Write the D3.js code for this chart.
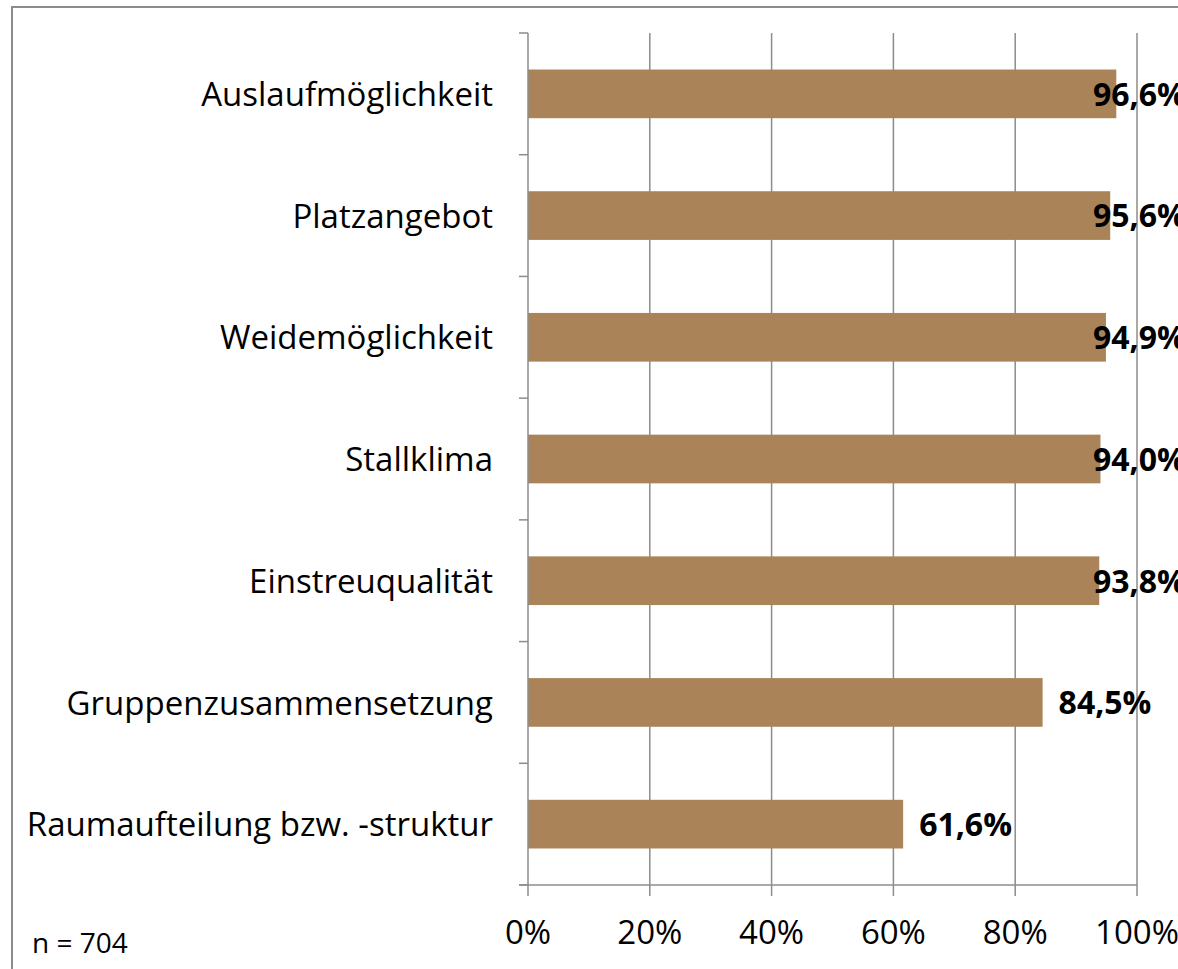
<!DOCTYPE html>
<html>
<head>
<meta charset="utf-8">
<script src="https://cdn.jsdelivr.net/npm/d3@7"></script>
<style>
  html, body { margin: 0; padding: 0; background: #fff; }
  svg { display: block; }
  text { font-family: "Open Sans", "Noto Sans", sans-serif; fill: #000; }
</style>
</head>
<body>
<svg id="chart" width="1178" height="969"></svg>
<script>
// data
var categories = ["Auslaufmöglichkeit", "Platzangebot", "Weidemöglichkeit", "Stallklima",
  "Einstreuqualität", "Gruppenzusammensetzung", "Raumaufteilung bzw. -struktur"];
var values = [96.6, 95.6, 94.9, 94.0, 93.8, 84.5, 61.6];
var xTicks = [0, 20, 40, 60, 80, 100];
var note = "n = 704";

var svg = d3.select("#chart");

// outer frame of the chart area
svg.append("rect")
    .attr("x", 12).attr("y", 7)
    .attr("width", 1400).attr("height", 1200)
    .attr("fill", "none")
    .attr("stroke", "#8c8c8c")
    .attr("stroke-width", 2);

var plotLeft = 528, plotRight = 1137, plotTop = 33, plotBottom = 885;

var x = d3.scaleLinear().domain([0, 100]).range([plotLeft, plotRight]);
var y = d3.scaleBand().domain(categories).range([plotTop, plotBottom])
    .paddingInner(0.6).paddingOuter(0.3);

// vertical gridlines
svg.append("g").selectAll("line")
    .data(xTicks.slice(1))
    .join("line")
    .attr("x1", d => x(d)).attr("x2", d => x(d))
    .attr("y1", plotTop).attr("y2", plotBottom)
    .attr("stroke", "#8c8c8c")
    .attr("stroke-width", 1.5);

// bars
svg.append("g").selectAll("rect")
    .data(values)
    .join("rect")
    .attr("x", x(0))
    .attr("y", (d, i) => y(categories[i]))
    .attr("width", d => x(d) - x(0))
    .attr("height", y.bandwidth())
    .attr("fill", "#aa8458");

// y axis with ticks between categories
var yAxis = svg.append("g");
yAxis.append("line")
    .attr("x1", plotLeft).attr("x2", plotLeft)
    .attr("y1", plotTop).attr("y2", plotBottom)
    .attr("stroke", "#8c8c8c").attr("stroke-width", 1.5);
var step = y.step();
yAxis.selectAll("line.tick")
    .data(d3.range(categories.length + 1))
    .join("line")
    .attr("class", "tick")
    .attr("x1", plotLeft - 9).attr("x2", plotLeft)
    .attr("y1", i => plotTop + i * step).attr("y2", i => plotTop + i * step)
    .attr("stroke", "#8c8c8c").attr("stroke-width", 1.5);

yAxis.selectAll("text")
    .data(categories)
    .join("text")
    .attr("x", plotLeft - 35)
    .attr("y", d => y(d) + y.bandwidth() / 2)
    .attr("dy", "0.37em")
    .attr("text-anchor", "end")
    .style("font-size", "33px")
    .text(d => d);

// x axis
var xAxis = svg.append("g");
xAxis.append("line")
    .attr("x1", plotLeft - 9).attr("x2", plotRight)
    .attr("y1", plotBottom).attr("y2", plotBottom)
    .attr("stroke", "#8c8c8c").attr("stroke-width", 1.5);
xAxis.selectAll("line.tick")
    .data(xTicks)
    .join("line")
    .attr("class", "tick")
    .attr("x1", d => x(d)).attr("x2", d => x(d))
    .attr("y1", plotBottom).attr("y2", plotBottom + 11)
    .attr("stroke", "#8c8c8c").attr("stroke-width", 1.5);
xAxis.selectAll("text")
    .data(xTicks)
    .join("text")
    .attr("x", d => x(d))
    .attr("y", 944)
    .attr("text-anchor", "middle")
    .style("font-size", "33px")
    .text(d => d + "%");

// value labels, pushed back when they would run off the frame
var fmt = d => d.toFixed(1).replace(".", ",") + "%";
svg.append("g").selectAll("text")
    .data(values)
    .join("text")
    .attr("x", d => Math.min(x(d) + 16, 1093))
    .attr("y", (d, i) => y(categories[i]) + y.bandwidth() / 2)
    .attr("dy", "0.37em")
    .style("font-size", "32px")
    .style("font-weight", "bold")
    .text(fmt);

svg.append("text")
    .attr("x", 32).attr("y", 953)
    .style("font-size", "28px")
    .text(note);
</script>
</body>
</html>
